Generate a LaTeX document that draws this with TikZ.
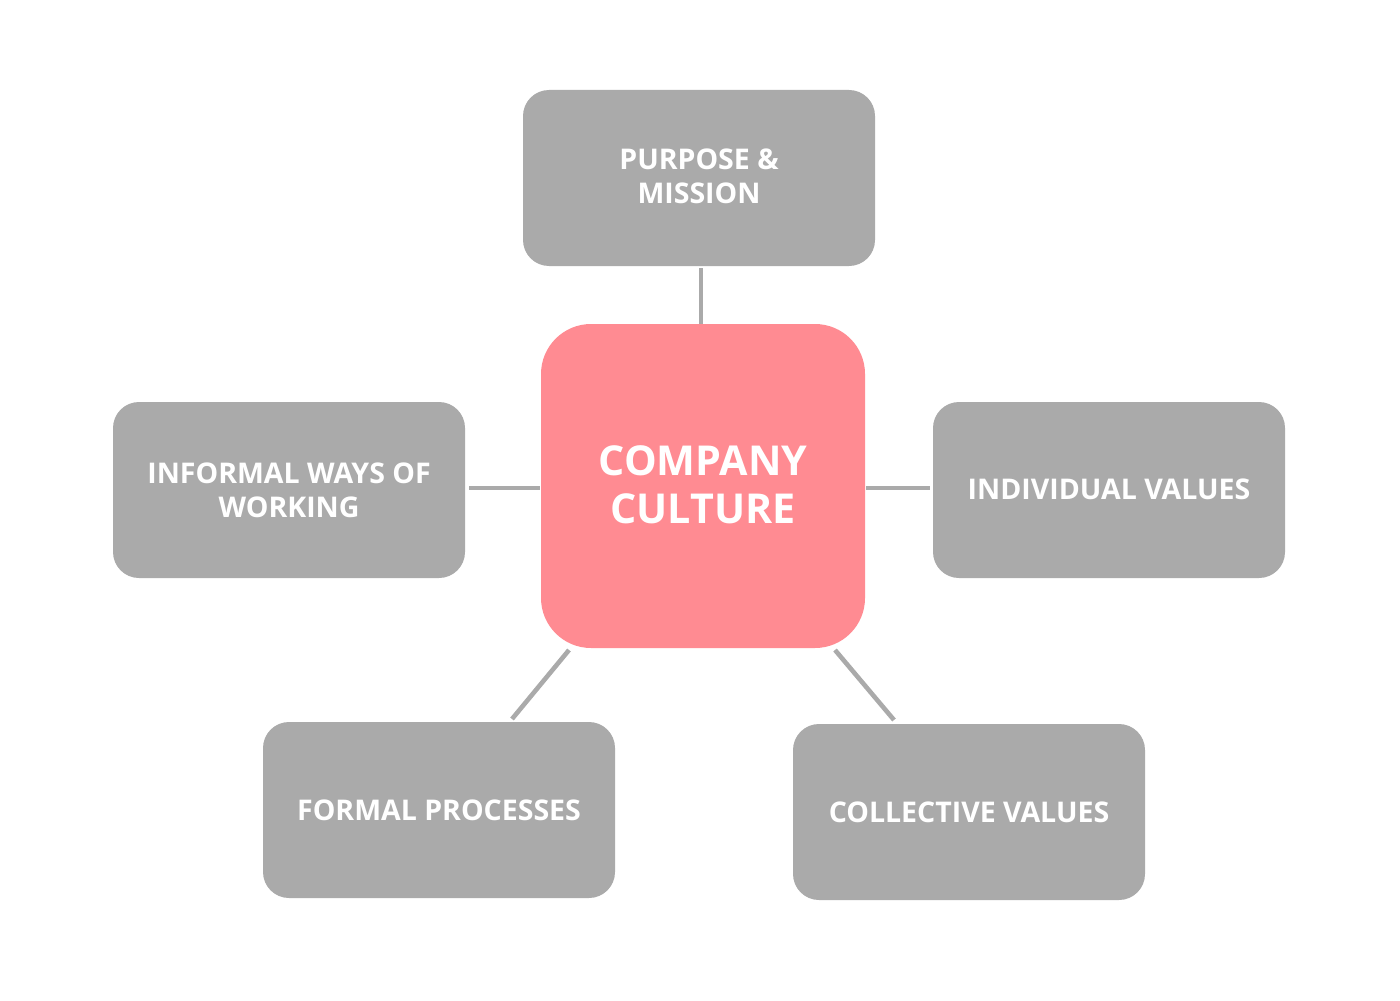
\documentclass[tikz,border=0pt]{standalone}
\usepackage{fontspec}
\setmainfont{Open Sans}
\definecolor{boxgray}{HTML}{AAAAAA}
\definecolor{pinkc}{HTML}{FF8B92}
\begin{document}
\begin{tikzpicture}[x=0.5pt,y=-0.5pt,
  graybox/.style={fill=boxgray, draw=none, rounded corners=13pt, minimum width=176pt, minimum height=88pt, inner sep=0pt, text=white, font=\fontsize{14.25}{17}\selectfont\bfseries, align=center},
  centerbox/.style={fill=pinkc, draw=none, rounded corners=25pt, minimum width=162pt, minimum height=162pt, inner sep=0pt, text=white, font=\fontsize{20.6}{24}\selectfont\bfseries, align=center},
  link/.style={draw=boxgray, line width=2.3pt}]
\useasboundingbox (0,0) rectangle (1400,1000);
\node[centerbox] (cc) at (703,486) {\raisebox{1pt}{COMPANY}\\\raisebox{1pt}{CULTURE}};
\node[graybox] (pm) at (699,178) {\raisebox{1.5pt}{PURPOSE \&}\\\raisebox{1.5pt}{MISSION}};
\node[graybox] (iw) at (289,490) {INFORMAL WAYS OF\\WORKING};
\node[graybox] (iv) at (1109,490) {\raisebox{1pt}{INDIVIDUAL VALUES}};
\node[graybox] (fp) at (439,810) {FORMAL PROCESSES};
\node[graybox] (cv) at (969,812) {COLLECTIVE VALUES};
\coordinate (pmb) at (701,268);
\coordinate (cct) at (701,324);
\coordinate (iwe) at (469,488);
\coordinate (ccw) at (540,488);
\coordinate (cce) at (866,488);
\coordinate (ivw) at (930,488);
\coordinate (ccsw) at (569,650);
\coordinate (fpn) at (512,719);
\coordinate (ccse) at (835,650);
\coordinate (cvn) at (894,720);
\draw[link] (pmb) -- (cct);
\draw[link] (iwe) -- (ccw);
\draw[link] (cce) -- (ivw);
\draw[link] (ccsw) -- (fpn);
\draw[link] (ccse) -- (cvn);
\end{tikzpicture}
\end{document}
